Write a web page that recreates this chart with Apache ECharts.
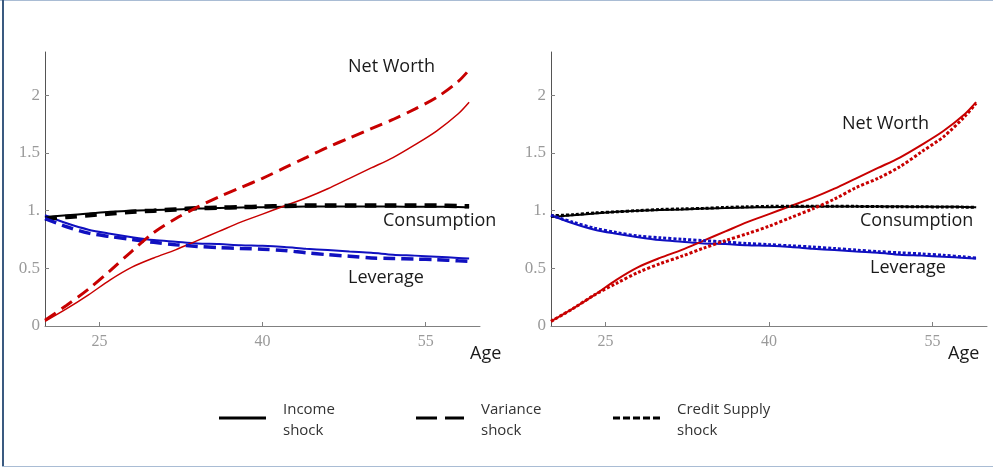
<!DOCTYPE html>
<html><head><meta charset="utf-8">
<script src="https://cdn.jsdelivr.net/npm/echarts@6/dist/echarts.min.js"></script>
<style>html,body{margin:0;padding:0;background:#fff}#c{width:993px;height:473px}</style>
</head><body><div id="c"></div>
<script>
// ---- data ----
const ages = [20,22,24,26,28,30,32,34,36,38,40,42,44,46,48,50,52,54,56,58,59];

// Income shock (solid) - both panels
const netWorthIncome   = [0.04,0.15,0.27,0.40,0.51,0.59,0.66,0.74,0.82,0.90,0.97,1.04,1.11,1.19,1.28,1.37,1.46,1.57,1.69,1.84,1.94];
const consIncome       = [0.945,0.96,0.975,0.99,1.0,1.005,1.01,1.018,1.022,1.027,1.03,1.033,1.035,1.036,1.036,1.035,1.035,1.034,1.033,1.032,1.03];
const levIncome        = [0.96,0.89,0.835,0.80,0.77,0.745,0.73,0.715,0.71,0.70,0.695,0.685,0.67,0.658,0.645,0.635,0.618,0.61,0.60,0.59,0.585];

// Variance shock (dashed) - left panel
const netWorthVariance = [0.05,0.18,0.32,0.48,0.65,0.81,0.93,1.03,1.12,1.20,1.28,1.37,1.46,1.55,1.63,1.71,1.79,1.88,1.98,2.12,2.22];
const consVariance     = [0.93,0.945,0.96,0.975,0.99,1.0,1.01,1.02,1.025,1.03,1.035,1.04,1.045,1.045,1.045,1.045,1.045,1.045,1.044,1.04,1.038];
const levVariance      = [0.93,0.86,0.805,0.775,0.75,0.725,0.705,0.69,0.68,0.672,0.665,0.655,0.635,0.618,0.605,0.59,0.585,0.58,0.575,0.565,0.56];

// Credit supply shock (dotted) - right panel
const netWorthCredit   = [0.04,0.15,0.27,0.37,0.465,0.54,0.605,0.675,0.74,0.80,0.865,0.94,1.015,1.10,1.20,1.28,1.38,1.51,1.64,1.82,1.93];
const consCredit       = [0.955,0.965,0.98,0.99,1.0,1.01,1.015,1.02,1.028,1.033,1.037,1.038,1.038,1.038,1.037,1.035,1.034,1.033,1.032,1.03,1.028];
const levCredit        = [0.96,0.90,0.848,0.81,0.78,0.765,0.752,0.74,0.728,0.715,0.705,0.695,0.685,0.672,0.658,0.645,0.635,0.625,0.613,0.598,0.59];

const xTicks = [25,40,55];
const yTicks = [0,0.5,1,1.5,2];
const legendNames = ['Income\nshock','Variance\nshock','Credit Supply\nshock'];
const seriesLabels = ['Net Worth','Consumption','Leverage'];
const axisName = 'Age';

// ---- chart ----
const RED='#c80000', BLUE='#1010c0', BLACK='#000000';
const pts = v => ages.map((a,i)=>[a,v[i]]);
const sansFont = '"Open Sans", "Noto Sans", sans-serif';
const serifFont = '"Liberation Serif", "DejaVu Serif", serif';

function xAx(gi){return {type:'value',gridIndex:gi,min:20,max:60,
  axisLine:{lineStyle:{color:'#808080',width:1}},
  axisTick:{show:true,inside:true,length:4,customValues:xTicks,lineStyle:{color:'#808080'}},
  axisLabel:{customValues:xTicks,color:'#9a9a9a',fontFamily:serifFont,fontSize:16,margin:8},
  splitLine:{show:false}};}
function yAx(gi){return {type:'value',gridIndex:gi,min:0,max:2.375,
  axisLine:{show:true,lineStyle:{color:'#555555',width:1}},
  axisTick:{show:true,inside:true,length:4,customValues:yTicks,lineStyle:{color:'#808080'}},
  axisLabel:{customValues:yTicks,color:'#9a9a9a',fontFamily:serifFont,fontSize:17,margin:5,
    formatter:v=> v===1?'1.':String(v)},
  splitLine:{show:false}};}

function ln(data,gi,color,width,type,z){return {type:'line',xAxisIndex:gi,yAxisIndex:gi,data:pts(data),
  showSymbol:false,symbol:'none',smooth:0.3,silent:true,z:z||2,
  lineStyle:{color:color,width:width,type:type,cap:'butt'}};}

const series = [
  ln(consVariance,0,BLACK,4.5,[12,8],3),
  ln(consIncome,0,BLACK,2,'solid',2),
  ln(levVariance,0,BLUE,3.5,[12,6],3),
  ln(levIncome,0,BLUE,2,'solid',2),
  ln(netWorthVariance,0,RED,3,[13,7],3),
  ln(netWorthIncome,0,RED,1.5,'solid',2),

  ln(consIncome,1,BLACK,2,'solid',2),
  ln(consCredit,1,BLACK,3,[3,2],3),
  ln(levIncome,1,BLUE,2,'solid',2),
  ln(levCredit,1,BLUE,3,[3,2],3),
  ln(netWorthIncome,1,RED,2,'solid',2),
  ln(netWorthCredit,1,RED,3,[3,2],3)
];

function txt(t,x,y,size){return {type:'text',x:x,y:y,silent:true,
  style:{text:t,fill:'#1a1a1a',font:size+'px '+sansFont,align:'left',verticalAlign:'middle'}};}

const graphic = [
  {type:'rect',shape:{x:0,y:0,width:993,height:1},style:{fill:'#a9bcd4'},silent:true},
  {type:'rect',shape:{x:2,y:0,width:2,height:467},style:{fill:'#3a5a80'},silent:true},
  {type:'rect',shape:{x:2,y:466,width:991,height:1},style:{fill:'#a9bcd4'},silent:true},
  txt(seriesLabels[0],348,67,18), txt(seriesLabels[1],383,221,18), txt(seriesLabels[2],348,278,18),
  txt(seriesLabels[0],842,124,18), txt(seriesLabels[1],860,221,18), txt(seriesLabels[2],870,268,18),
  txt(axisName,470,354,18), txt(axisName,948,354,18),
  {type:'line',shape:{x1:219,y1:418,x2:266,y2:418},style:{stroke:'#000',lineWidth:3},silent:true},
  {type:'line',shape:{x1:416,y1:418,x2:464,y2:418},style:{stroke:'#000',lineWidth:3,lineDash:[21,8]},silent:true},
  {type:'line',shape:{x1:613,y1:418,x2:661,y2:418},style:{stroke:'#000',lineWidth:3,lineDash:[7,3]},silent:true},
  {type:'text',x:283,y:420,silent:true,style:{text:legendNames[0],fill:'#333',font:'15px '+sansFont,lineHeight:21,verticalAlign:'middle'}},
  {type:'text',x:481,y:420,silent:true,style:{text:legendNames[1],fill:'#333',font:'15px '+sansFont,lineHeight:21,verticalAlign:'middle'}},
  {type:'text',x:677,y:420,silent:true,style:{text:legendNames[2],fill:'#333',font:'15px '+sansFont,lineHeight:21,verticalAlign:'middle'}}
];

const chart = echarts.init(document.getElementById('c'),null,{renderer:'canvas'});
chart.setOption({
  animation:false,
  backgroundColor:'#ffffff',
  grid:[{left:45,top:52,width:435,height:274},{left:551,top:52,width:436,height:274}],
  xAxis:[xAx(0),xAx(1)],
  yAxis:[yAx(0),yAx(1)],
  series:series,
  graphic:graphic
});
</script></body></html>
